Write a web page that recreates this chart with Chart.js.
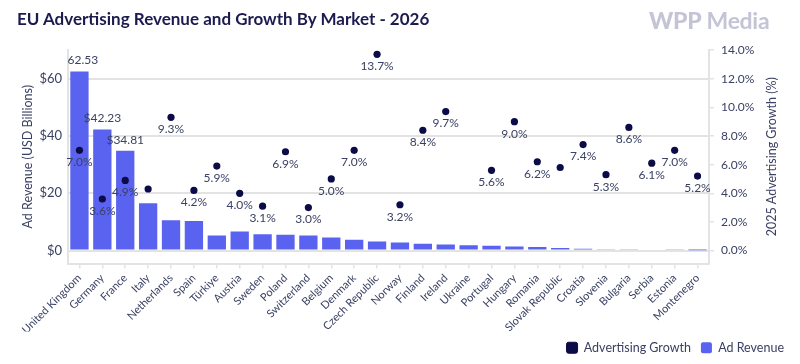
<!DOCTYPE html>
<html><head><meta charset="utf-8">
<script src="https://cdn.jsdelivr.net/npm/chart.js@4"></script>
<style>
html,body{margin:0;padding:0;background:#fff;}
#wrap{position:relative;width:800px;height:364px;overflow:hidden;}
#title{position:absolute;left:17px;top:8px;font:700 17px Lato, sans-serif;color:#1c1b50;white-space:nowrap;}
#logo{position:absolute;left:649px;top:6px;font:700 23px Lato, sans-serif;color:#c4c4d6;white-space:nowrap;letter-spacing:-0.3px;}
#logo b{font-weight:900;}
canvas{position:absolute;left:0;top:0;}
</style></head>
<body><div id="wrap">
<canvas id="c" width="800" height="364"></canvas>
<div id="title">EU Advertising Revenue and Growth By Market - 2026</div>
<div id="logo"><b>WPP</b> Media</div>
</div>
<script>
const markets = ['United Kingdom','Germany','France','Italy','Netherlands','Spain','Türkiye','Austria','Sweden','Poland','Switzerland','Belgium','Denmark','Czech Republic','Norway','Finland','Ireland','Ukraine','Portugal','Hungary','Romania','Slovak Republic','Croatia','Slovenia','Bulgaria','Serbia','Estonia','Montenegro'];
const adRevenue = [62.53,42.23,34.81,16.5,10.6,10.3,5.3,6.7,5.7,5.5,5.3,4.6,3.8,3.2,2.8,2.4,2.1,1.9,1.7,1.4,1.3,0.95,0.65,0.5,0.45,0.4,0.3,0.1];
const adGrowth = [7.0,3.6,4.9,4.3,9.3,4.2,5.9,4.0,3.1,6.9,3.0,5.0,7.0,13.7,3.2,8.4,9.7,null,5.6,9.0,6.2,5.8,7.4,5.3,8.6,6.1,7.0,5.2];
const revenueLabelled = ['United Kingdom','Germany','France'];
const growthLabelHidden = ['Italy','Slovak Republic'];
const revenueTicks = [0,20,40,60];
const growthTicks = [0,2,4,6,8,10,12,14];

const FONT = 'Lato, sans-serif';
const TXT = '#3a4163';
const NAVY = '#0b0b48';
const BLUE = '#5a63f0';
const GRID = '#e3e3e3';

const labelPlugin = {
  id: 'valueLabels',
  afterDatasetsDraw(chart) {
    const ctx = chart.ctx;
    const area = chart.chartArea;
    ctx.save();
    ctx.font = '12px ' + FONT;
    ctx.fillStyle = TXT;
    ctx.textAlign = 'center';
    ctx.textBaseline = 'middle';
    const gm = chart.getDatasetMeta(0);
    gm.data.forEach((pt, i) => {
      const v = adGrowth[i];
      if (v === null || growthLabelHidden.includes(markets[i])) return;
      ctx.fillText(v.toFixed(1) + '%', pt.x, pt.y + 12);
    });
    ctx.beginPath();
    ctx.rect(area.left, area.top, area.right - area.left, area.bottom - area.top);
    ctx.clip();
    const bm = chart.getDatasetMeta(1);
    bm.data.forEach((bar, i) => {
      if (!revenueLabelled.includes(markets[i])) return;
      ctx.fillText('$' + adRevenue[i].toFixed(2), bar.x, bar.y - 11);
    });
    ctx.restore();
    ctx.save();
    ctx.font = '12.5px ' + FONT;
    ctx.fillStyle = TXT;
    ctx.textAlign = 'center';
    ctx.textBaseline = 'middle';
    ctx.translate(772, (area.top + area.bottom) / 2);
    ctx.rotate(-Math.PI / 2);
    ctx.fillText('2025 Advertising Growth (%)', 0, 0);
    ctx.restore();
  }
};

new Chart(document.getElementById('c'), {
  type: 'bar',
  data: {
    labels: markets,
    datasets: [
      {
        type: 'line',
        label: 'Advertising Growth',
        data: adGrowth,
        yAxisID: 'yR',
        showLine: false,
        pointRadius: 3.6,
        pointHoverRadius: 3.6,
        backgroundColor: NAVY,
        borderColor: NAVY,
        borderWidth: 1,
        pointBorderWidth: 0
      },
      {
        type: 'bar',
        label: 'Ad Revenue',
        data: adRevenue,
        yAxisID: 'yL',
        backgroundColor: BLUE,
        borderColor: BLUE,
        borderWidth: 0,
        barPercentage: 0.8,
        categoryPercentage: 1.0
      }
    ]
  },
  options: {
    responsive: false,
    animation: false,
    devicePixelRatio: 1,
    layout: { padding: { top: 50, left: 0, right: 6, bottom: 0 } },
    plugins: {
      legend: {
        position: 'bottom',
        align: 'end',
        labels: {
          boxWidth: 11, boxHeight: 11, useBorderRadius: true, borderRadius: 2,
          color: TXT, font: { family: FONT, size: 12.5 }, padding: 10
        }
      },
      tooltip: { enabled: false },
      title: { display: false }
    },
    scales: {
      x: {
        grid: { drawOnChartArea: false, drawTicks: true, tickLength: 5, color: GRID, lineWidth: 1.5, offset: false },
        border: { color: GRID, width: 2 },
        ticks: { minRotation: 45, maxRotation: 45, autoSkip: false, color: TXT, font: { family: FONT, size: 11 }, padding: 3 },
        afterFit(s) { s.height = 68; }
      },
      yL: {
        position: 'left',
        min: -4.5, max: 70,
        afterBuildTicks(s) { s.ticks = revenueTicks.map(v => ({ value: v })); },
        ticks: { callback: v => '$' + v, color: TXT, font: { family: FONT, size: 13 }, padding: 6 },
        grid: { color: GRID, lineWidth: 2, drawTicks: false },
        border: { color: GRID, width: 2 },
        title: { display: true, text: 'Ad Revenue (USD Billions)', color: TXT, font: { family: FONT, size: 12.5 }, padding: { top: 20, bottom: 0 } },
        afterFit(s) { s.width = 68; }
      },
      yR: {
        position: 'right',
        min: -0.9, max: 14,
        afterBuildTicks(s) { s.ticks = growthTicks.map(v => ({ value: v })); },
        ticks: { callback: v => v.toFixed(1) + '%', color: TXT, font: { family: FONT, size: 12 }, padding: 7 },
        grid: { drawOnChartArea: false, drawTicks: true, tickLength: 5, color: GRID, lineWidth: 1.5 },
        border: { color: GRID, width: 2 },
        afterFit(s) { s.width = 85; }
      }
    }
  },
  plugins: [labelPlugin]
});
</script>
</body></html>
